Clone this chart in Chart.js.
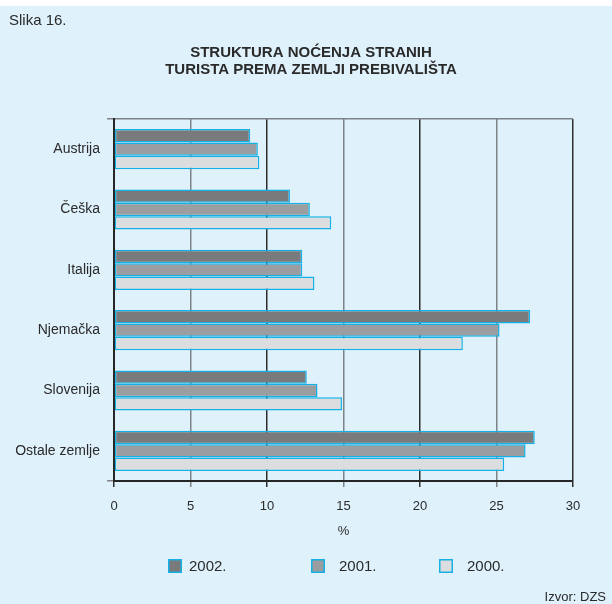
<!DOCTYPE html>
<html>
<head>
<meta charset="utf-8">
<script src="https://cdn.jsdelivr.net/npm/chart.js@4/dist/chart.umd.min.js"></script>
<style>
  html, body { margin: 0; padding: 0; background: #ffffff; }
  #wrap { position: absolute; left: 0; top: 6px; width: 612px; height: 598px; background: #dff1fb; }
  canvas { display: block; }
</style>
</head>
<body>
<div id="wrap"><canvas id="c" width="612" height="598"></canvas></div>
<script>
const categories = ["Austrija", "Češka", "Italija", "Njemačka", "Slovenija", "Ostale zemlje"];
const seriesNames = ["2002.", "2001.", "2000."];
const values2002 = [8.9, 11.5, 12.3, 27.2, 12.6, 27.5];
const values2001 = [9.4, 12.8, 12.3, 25.2, 13.3, 26.9];
const values2000 = [9.5, 14.2, 13.1, 22.8, 14.9, 25.5];
const xTicks = [0, 5, 10, 15, 20, 25, 30];
const figureLabel = "Slika 16.";
const titleLines = ["STRUKTURA NOĆENJA STRANIH", "TURISTA PREMA ZEMLJI PREBIVALIŠTA"];
const axisTitle = "%";
const sourceText = "Izvor: DZS";

const FONT = "'Liberation Sans', Arial, Helvetica, sans-serif";
const fills = ["#797a7c", "#9b9ea1", "#dcdddf"];
const edge = "#14b0e6";
const textColor = "#2a2a2a";

const extrasPlugin = {
  id: "extras",
  afterDraw(chart) {
    const ctx = chart.ctx;
    ctx.save();
    ctx.fillStyle = textColor;
    ctx.textBaseline = "middle";
    // figure label
    ctx.font = "15px " + FONT;
    ctx.textAlign = "left";
    ctx.fillText(figureLabel, 9, 14.5);
    // title
    ctx.font = "bold 15px " + FONT;
    ctx.textAlign = "center";
    ctx.fillText(titleLines[0], 311, 46.5);
    ctx.fillText(titleLines[1], 311, 64);
    // legend
    const boxX = [168, 311, 439];
    const textX = [189, 339, 467];
    ctx.font = "15px " + FONT;
    ctx.textAlign = "left";
    chart.data.datasets.forEach((ds, i) => {
      ctx.fillStyle = ds.backgroundColor;
      ctx.fillRect(boxX[i], 553, 14, 14);
      ctx.strokeStyle = edge;
      ctx.lineWidth = 1.5;
      ctx.strokeRect(boxX[i] + 0.75, 553.75, 12.5, 12.5);
      ctx.fillStyle = textColor;
      ctx.fillText(ds.label, textX[i], 560.5);
    });
    // source
    ctx.font = "13px " + FONT;
    ctx.textAlign = "right";
    ctx.fillText(sourceText, 606, 591.5);
    ctx.restore();
  }
};

const datasets = [values2002, values2001, values2000].map((vals, i) => ({
  label: seriesNames[i],
  data: vals,
  backgroundColor: fills[i],
  borderColor: edge,
  borderWidth: 1.5,
  borderSkipped: false,
  categoryPercentage: 0.667,
  barPercentage: 1.0
}));

new Chart(document.getElementById("c"), {
  type: "bar",
  data: { labels: categories, datasets: datasets },
  plugins: [extrasPlugin],
  options: {
    indexAxis: "y",
    responsive: false,
    animation: false,
    devicePixelRatio: 1,
    layout: { padding: { left: 0, right: 39, top: 113, bottom: 63 } },
    plugins: {
      legend: { display: false },
      tooltip: { enabled: false },
      title: { display: false }
    },
    scales: {
      x: {
        min: 0,
        max: 30,
        afterBuildTicks(scale) { scale.ticks = xTicks.map(v => ({ value: v })); },
        afterFit(scale) { scale.height = 60; },
        ticks: {
          font: { family: FONT, size: 13 },
          color: textColor,
          padding: 12,
          maxRotation: 0
        },
        grid: {
          color: c => (c.tick && c.tick.value % 10 === 0) ? "#2e2e2e" : "#7f8387",
          lineWidth: 1.5,
          tickLength: 6,
          drawTicks: true
        },
        border: { color: "#262626", width: 2 },
        title: {
          display: true,
          text: axisTitle,
          font: { family: FONT, size: 13 },
          color: textColor,
          padding: { top: 4, bottom: 2 }
        }
      },
      y: {
        afterFit(scale) { scale.width = 114; },
        ticks: {
          font: { family: FONT, size: 14 },
          color: textColor,
          padding: 7
        },
        grid: {
          offset: true,
          color: c => (c.type === "scale" || c.index === 0) ? "#7f8387" : "rgba(0,0,0,0)",
          lineWidth: 1.5,
          tickLength: 7,
          drawTicks: true
        },
        border: { color: "#262626", width: 2 }
      }
    }
  }
});
</script>
</body>
</html>
